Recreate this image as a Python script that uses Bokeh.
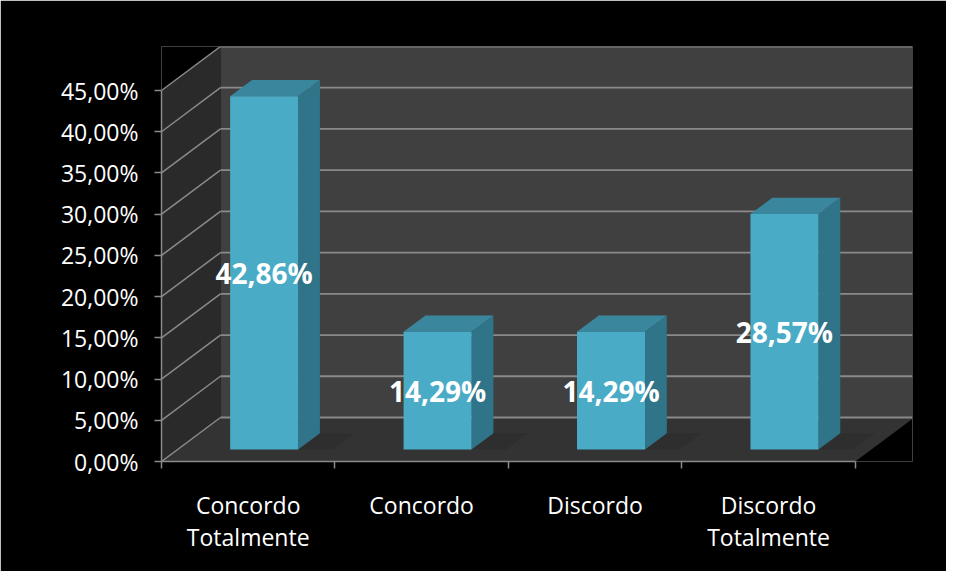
from bokeh.plotting import figure
from bokeh.models import Range1d, FixedTicker, ColumnDataSource
from bokeh.embed import file_html
from bokeh.resources import INLINE
from bokeh.core.properties import value

# ---- data ----
categories = ["Concordo\nTotalmente", "Concordo", "Discordo", "Discordo\nTotalmente"]
values = [42.86, 14.29, 14.29, 28.57]
value_labels = ["42,86%", "14,29%", "14,29%", "28,57%"]
y_ticks = [0, 5, 10, 15, 20, 25, 30, 35, 40, 45]
y_tick_labels = ["0,00%", "5,00%", "10,00%", "15,00%", "20,00%", "25,00%",
                 "30,00%", "35,00%", "40,00%", "45,00%"]

# ---- 3D geometry (in data units) ----
N = len(categories)
YMAX = y_ticks[-1]
DX = 0.34          # depth offset along x
DY = 5.34          # depth offset along y
X1 = N + 0.33      # right edge of back wall
F0, F1 = 0.27, 0.64  # bar front / back depth fractions
HW = 0.196         # bar half width

FONT = "Open Sans"
GRID = "#8a8a8a"

p = figure(width=946, height=571, output_backend="svg", toolbar_location=None,
           x_range=Range1d(0, X1), y_range=Range1d(0, YMAX + DY),
           min_border_left=161, min_border_right=34, min_border_top=46,
           min_border_bottom=110)
p.background_fill_color = "black"
p.border_fill_color = "black"
p.outline_line_color = None
p.xgrid.visible = False
p.ygrid.visible = False

# walls and floor
p.patch([0, DX, DX, 0], [0, DY, YMAX + DY, YMAX], color="#2a2a2a", line_color=None)
p.patch([DX, X1, X1, DX], [DY, DY, YMAX + DY, YMAX + DY], color="#404040", line_color=None)
p.patch([0, N, N + DX, DX], [0, 0, DY, DY], color="#333333", line_color=None)

# gridlines on back wall and side wall
p.segment(x0=[DX] * len(y_ticks), y0=[t + DY for t in y_ticks],
          x1=[X1] * len(y_ticks), y1=[t + DY for t in y_ticks],
          line_color=GRID, line_width=1.8)
p.segment(x0=[0] * len(y_ticks), y0=y_ticks,
          x1=[DX] * len(y_ticks), y1=[t + DY for t in y_ticks],
          line_color=GRID, line_width=1.5)

# bars
for i, v in enumerate(values):
    c = i + 0.5
    xl = c - HW
    xr = c + HW
    # soft shadow on the floor
    p.patch([xr + F0 * DX, xr + F0 * DX + 0.2, xr + F1 * DX + 0.2, xr + F1 * DX],
            [F0 * DY, F0 * DY, F1 * DY, F1 * DY], color="#1e1e1e", alpha=0.2, line_color=None)
    # side face
    p.patch([xr + F0 * DX, xr + F1 * DX, xr + F1 * DX, xr + F0 * DX],
            [F0 * DY, F1 * DY, v + F1 * DY, v + F0 * DY],
            color="#2f7488", line_color=None)
    # top face
    p.patch([xl + F0 * DX, xr + F0 * DX, xr + F1 * DX, xl + F1 * DX],
            [v + F0 * DY, v + F0 * DY, v + F1 * DY, v + F1 * DY],
            color="#3a879d", line_color=None)
    # front face
    p.patch([xl + F0 * DX, xr + F0 * DX, xr + F0 * DX, xl + F0 * DX],
            [F0 * DY, F0 * DY, v + F0 * DY, v + F0 * DY],
            color="#4aabc6", line_color=None)

# data labels
src = ColumnDataSource(dict(
    x=[i + 0.5 + F0 * DX for i in range(N)],
    y=[v / 2 + F0 * DY for v in values],
    t=value_labels))
p.text(x="x", y="y", text="t", source=src, text_color="white",
       text_font=value(FONT), text_font_style="bold", text_font_size="28px",
       text_align="center", text_baseline="middle")

# y axis
ya = p.yaxis[0]
ya.ticker = FixedTicker(ticks=y_ticks, minor_ticks=[])
ya.major_label_overrides = {t: s for t, s in zip(y_ticks, y_tick_labels)}
ya.bounds = (0, YMAX)
ya.axis_line_color = GRID
ya.axis_line_width = 1.5
ya.major_tick_line_color = GRID
ya.major_tick_line_width = 1.5
ya.major_tick_out = 7
ya.major_tick_in = 0
ya.major_label_text_color = "white"
ya.major_label_text_font = FONT
ya.major_label_text_font_size = "23px"
ya.major_label_standoff = 16

# x axis
xa = p.xaxis[0]
centers = [i + 0.5 for i in range(N)]
xa.ticker = FixedTicker(ticks=centers, minor_ticks=list(range(N + 1)))
xa.major_label_overrides = {c: s for c, s in zip(centers, categories)}
xa.bounds = (0, N)
xa.axis_line_color = GRID
xa.axis_line_width = 1.5
xa.major_tick_line_color = None
xa.minor_tick_line_color = GRID
xa.minor_tick_line_width = 1.5
xa.minor_tick_out = 7
xa.minor_tick_in = 0
xa.major_tick_out = 0
xa.major_tick_in = 0
xa.major_label_text_color = "white"
xa.major_label_text_font = FONT
xa.major_label_text_font_size = "23px"
xa.major_label_text_line_height = 1.02
xa.major_label_standoff = 20

open("out.html", "w").write(file_html(p, INLINE))
